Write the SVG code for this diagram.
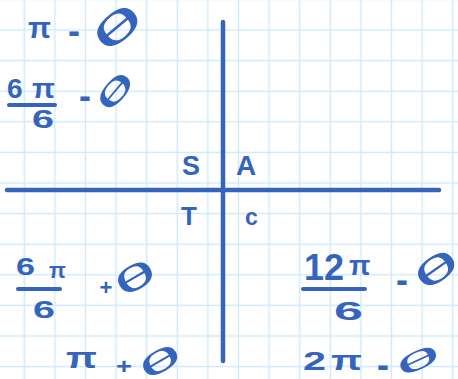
<svg xmlns="http://www.w3.org/2000/svg" width="458" height="379" viewBox="0 0 458 379">
<defs>
<style>
.ink{fill:#3464bc;font-family:"Liberation Sans",Arial,sans-serif;font-weight:bold}
.th{text-anchor:middle;font-weight:normal}
.bar{stroke:#3464bc;stroke-width:4;stroke-linecap:round;fill:none}
.axis{stroke:#3464bc;stroke-width:4.5;stroke-linecap:round;fill:none}
.grid{stroke:#cfe8fa;stroke-width:1.4}
</style>
<pattern id="gridp" patternUnits="userSpaceOnUse" x="9" y="14.7" width="30.6" height="30.6">
<line class="grid" x1="15.3" y1="0" x2="15.3" y2="30.6"/>
<line class="grid" x1="0" y1="15.3" x2="30.6" y2="15.3"/>
</pattern>
</defs>
<rect width="458" height="379" fill="#ffffff"/>
<rect width="458" height="379" fill="url(#gridp)"/>
<g id="axes">
<line class="axis" x1="7" y1="190" x2="439" y2="190"/>
<line class="axis" x1="223" y1="22" x2="223" y2="361"/>
</g>
<g id="quadrants">
<text class="ink" x="182" y="175" font-size="27">S</text>
<text class="ink" x="236" y="175" font-size="28">A</text>
<text class="ink" x="181" y="225" font-size="26">T</text>
<text class="ink" x="245" y="225" font-size="23">c</text>
</g>
<g id="label-pi-minus-theta">
<text class="ink" y="38"><tspan x="28" font-size="30">π</tspan><tspan x="68" y="43" font-size="36">-</tspan></text>
<text class="ink th" font-size="44" y="16" transform="translate(117,27) rotate(-40) scale(2.2,0.9)">θ</text>
</g>
<g id="label-6pi6-minus-theta">
<text class="ink" y="98"><tspan x="7" font-size="28">6</tspan><tspan x="32" font-size="28" textLength="23" lengthAdjust="spacingAndGlyphs">π</tspan></text>
<line class="bar" x1="9" y1="105" x2="55" y2="105"/>
<text class="ink" x="32" y="128" font-size="25" textLength="22" lengthAdjust="spacingAndGlyphs">6</text>
<text class="ink" x="79" y="108" font-size="36">-</text>
<text class="ink th" font-size="40" y="14.5" transform="translate(115,91) rotate(-50) scale(2.0,0.72)">θ</text>
</g>
<g id="label-6pi6-plus-theta">
<text class="ink" y="275"><tspan x="16" font-size="24" textLength="19" lengthAdjust="spacingAndGlyphs">6</tspan><tspan x="49" y="278" font-size="22">π</tspan></text>
<line class="bar" x1="18" y1="289" x2="60" y2="289"/>
<text class="ink" x="33" y="318" font-size="23" textLength="22" lengthAdjust="spacingAndGlyphs">6</text>
<text class="ink" x="99.5" y="295" font-size="22">+</text>
<text class="ink th" font-size="40" y="14.5" transform="translate(135,277) rotate(-30) scale(1.93,0.85)">θ</text>
</g>
<g id="label-pi-plus-theta">
<text class="ink" x="66" y="368" font-size="30" textLength="31" lengthAdjust="spacingAndGlyphs">π</text>
<text class="ink" x="116" y="374" font-size="22" textLength="16" lengthAdjust="spacingAndGlyphs">+</text>
<text class="ink th" font-size="40" y="14.5" transform="translate(160,361) rotate(-30) scale(2.0,0.75)">θ</text>
</g>
<g id="label-12pi6-minus-theta">
<text class="ink" y="280"><tspan x="304" font-size="36" textLength="40" lengthAdjust="spacingAndGlyphs">12</tspan><tspan x="349" y="275" font-size="28">π</tspan></text>
<line class="bar" x1="303" y1="289" x2="365" y2="289"/>
<text class="ink" x="334" y="320" font-size="26" textLength="29" lengthAdjust="spacingAndGlyphs">6</text>
<text class="ink" x="396" y="292" font-size="36">-</text>
<text class="ink th" font-size="42" y="15.2" transform="translate(436,269) rotate(-35) scale(2.03,0.84)">θ</text>
</g>
<g id="label-2pi-minus-theta">
<text class="ink" y="370"><tspan x="303" font-size="26" textLength="23" lengthAdjust="spacingAndGlyphs">2</tspan><tspan x="331" font-size="28" textLength="31" lengthAdjust="spacingAndGlyphs">π</tspan></text>
<text class="ink" x="377" y="377" font-size="36">-</text>
<text class="ink th" font-size="40" y="14.5" transform="translate(418,360) rotate(-25) scale(2.08,0.64)">θ</text>
</g>
</svg>
